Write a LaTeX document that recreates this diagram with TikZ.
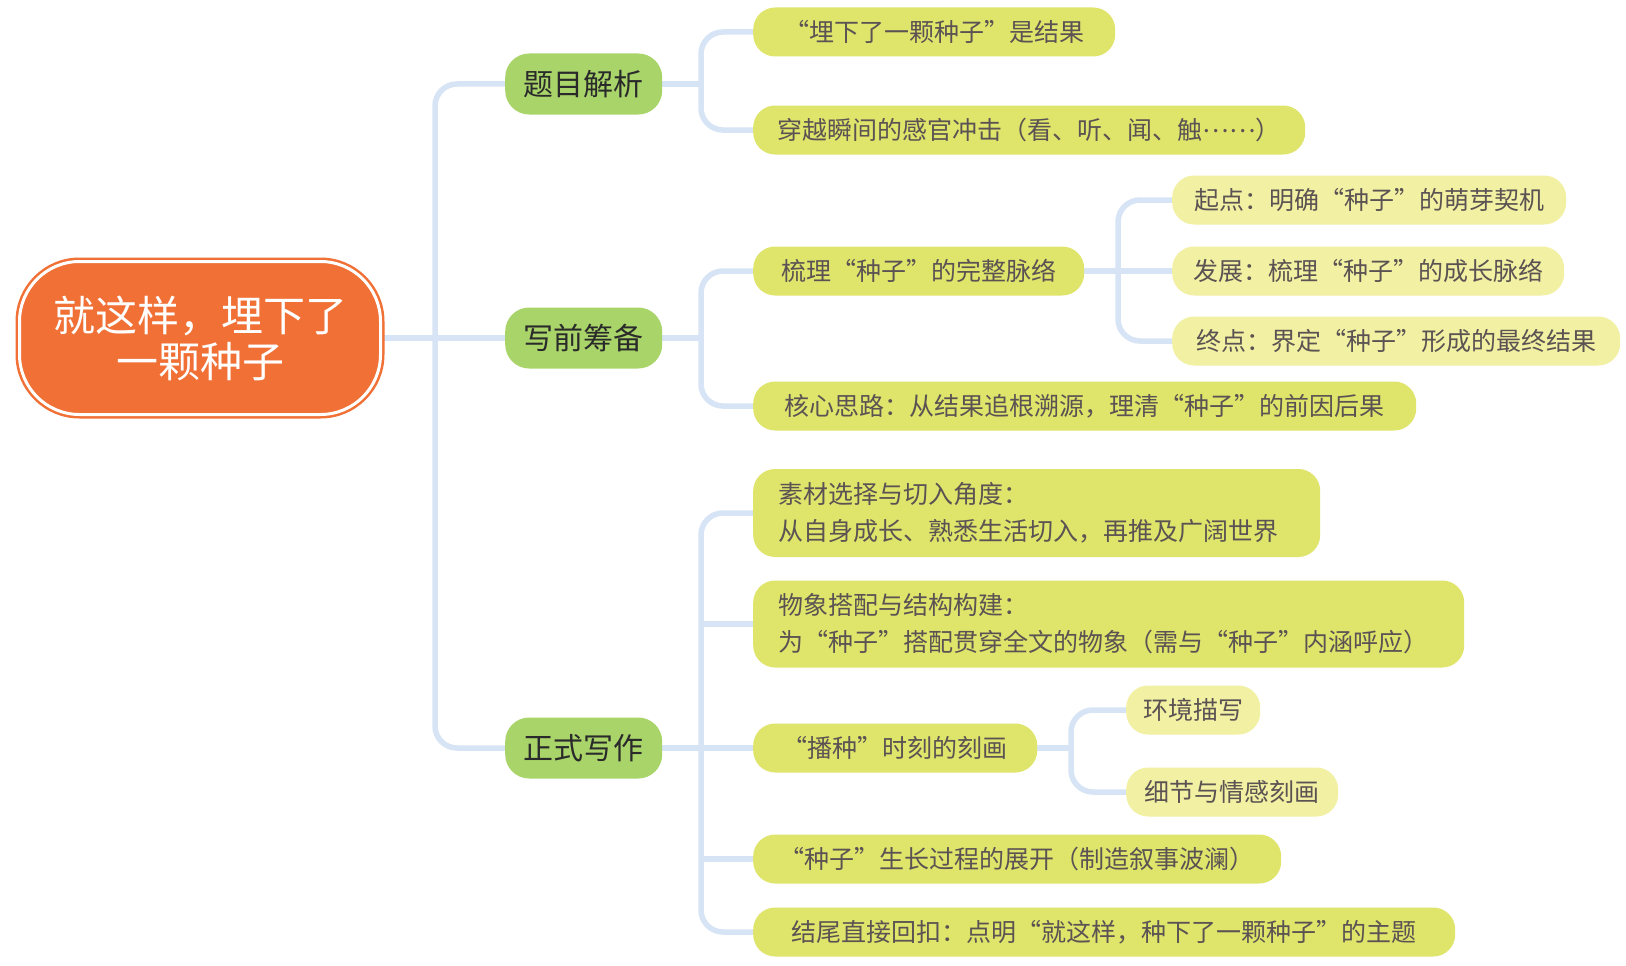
\documentclass[tikz,border=0pt]{standalone}
\usepackage{fontspec}
\usetikzlibrary{backgrounds}
\setmainfont{Noto Sans CJK SC}
\definecolor{rootc}{HTML}{F07036}
\definecolor{l1c}{HTML}{A9D46A}
\definecolor{l2c}{HTML}{DFE46B}
\definecolor{l3c}{HTML}{F2F0A2}
\definecolor{linec}{HTML}{D6E4F5}
\definecolor{txtc}{HTML}{5B5353}
\definecolor{txtd}{HTML}{2A2A2A}
\newcommand{\middots}[1]{\raisebox{0.3em}{#1}}
\tikzset{
  rootbox/.style={fill=rootc, draw=rootc, double=white, double distance=3pt, line width=2.5pt,
    rounded corners=60pt, minimum width=361pt, minimum height=153pt, inner sep=0pt,
    text=white, align=center, font=\fontsize{42}{46}\selectfont},
  lone/.style={fill=l1c, rounded corners=24pt, minimum width=157pt, minimum height=61pt,
    inner sep=0pt, text=txtd, font=\fontsize{30}{36}\selectfont, anchor=west},
  ltwo/.style={fill=l2c, rounded corners=22pt, minimum height=49pt, inner sep=0pt,
    text=txtc, font=\fontsize{25}{37}\selectfont, anchor=west},
  lthree/.style={ltwo, fill=l3c},
  ltwoml/.style={ltwo, align=left, inner xsep=25pt, text width=#1},
  conn/.style={draw=linec, line width=5.5pt, rounded corners=22pt},
}
\begin{document}
\begin{tikzpicture}[x=1pt,y=-1pt]
\useasboundingbox (0,0) rectangle (1626,966);
\node[rootbox] (root) at (200,338) {就这样，埋下了\\一颗种子};
\node[lone] (n1) at (505,84) {题目解析};
\node[lone] (n2) at (505,338) {写前筹备};
\node[lone] (n3) at (505,748) {正式写作};
% level 2
\node[ltwo, minimum width=362pt] (a1) at (753,32) {“埋下了一颗种子”是结果};
\node[ltwo, minimum width=552pt] (a2) at (753,130) {穿越瞬间的感官冲击（看、听、闻、触\middots{……}）};
\node[ltwo, minimum width=331pt] (b1) at (753,271) {梳理“种子”的完整脉络};
\node[ltwo, minimum width=663pt] (b2) at (753,406) {核心思路：从结果追根溯源，理清“种子”的前因后果};
\node[ltwoml=517pt, minimum height=88pt] (c1) at (753,513) {素材选择与切入角度：\\从自身成长、熟悉生活切入，再推及广阔世界};
\node[ltwoml=661pt, minimum height=87pt] (c2) at (753,624) {物象搭配与结构构建：\\为“种子”搭配贯穿全文的物象（需与“种子”内涵呼应）};
\node[ltwo, minimum width=284pt] (c3) at (753,748) {“播种”时刻的刻画};
\node[ltwo, minimum width=528pt] (c4) at (753,859) {“种子”生长过程的展开（制造叙事波澜）};
\node[ltwo, minimum width=702pt] (c5) at (753,932) {结尾直接回扣：点明“就这样，种下了一颗种子”的主题};
% level 3
\node[lthree, minimum width=394pt] (b11) at (1172,200) {起点：明确“种子”的萌芽契机};
\node[lthree, minimum width=392pt] (b12) at (1172,271) {发展：梳理“种子”的成长脉络};
\node[lthree, minimum width=448pt] (b13) at (1172,341) {终点：界定“种子”形成的最终结果};
\node[lthree, minimum width=134pt] (c31) at (1126,710) {环境描写};
\node[lthree, minimum width=212pt] (c32) at (1126,792) {细节与情感刻画};
% connectors
\begin{pgfonlayer}{background}
\fill[white] (0,0) rectangle (1626,966);
% root to level 1
\coordinate (t0) at (435,338);
\draw[conn] (root.east) -- (n2.west);
\draw[conn] (t0) |- (n1.west);
\draw[conn] (t0) |- (n3.west);
% level 1 to level 2
\coordinate (j1) at (701,84);
\draw[conn] (n1.east) -- (j1);
\draw[conn] (j1) |- (a1.west);
\draw[conn] (j1) |- (a2.west);
\coordinate (j2) at (701,338);
\draw[conn] (n2.east) -- (j2);
\draw[conn] (j2) |- (b1.west);
\draw[conn] (j2) |- (b2.west);
\coordinate (j3) at (701,748);
\draw[conn] (n3.east) -- (c3.west);
\draw[conn] (j3) |- (c1.west);
\draw[conn] (j3) |- (c5.west);
\draw[conn] (c2.west -| j3) -- (c2.west);
\draw[conn] (c4.west -| j3) -- (c4.west);
% level 2 to level 3
\coordinate (k1) at (1118,271);
\draw[conn] (b1.east) -- (b12.west);
\draw[conn] (k1) |- (b11.west);
\draw[conn] (k1) |- (b13.west);
\coordinate (k2) at (1071,748);
\draw[conn] (c3.east) -- (k2);
\draw[conn] (k2) |- (c31.west);
\draw[conn] (k2) |- (c32.west);
\end{pgfonlayer}
\end{tikzpicture}
\end{document}
